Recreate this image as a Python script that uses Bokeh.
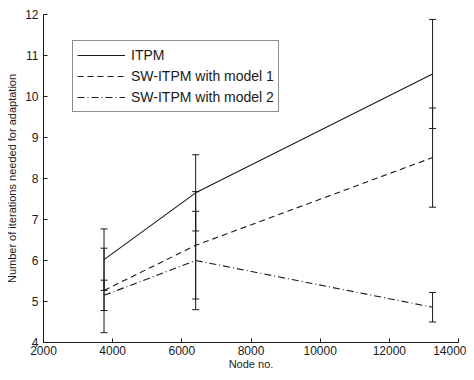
from bokeh.plotting import figure
from bokeh.models import ColumnDataSource, Whisker, TeeHead, Legend, LegendItem, Range1d, FixedTicker
from bokeh.embed import file_html
from bokeh.resources import INLINE

nodes = [3750, 6400, 13250]
itpm = [6.02, 7.65, 10.55]
itpm_err = [0.75, 0.93, 1.33]
m1 = [5.27, 6.37, 8.51]
m1_err = [1.03, 1.31, 1.21]
m2 = [5.15, 6.0, 4.86]
m2_err = [0.37, 1.2, 0.36]
labels = ["ITPM", "SW-ITPM with model 1", "SW-ITPM with model 2"]
x_ticks = [2000, 4000, 6000, 8000, 10000, 12000, 14000]
y_ticks = [4, 5, 6, 7, 8, 9, 10, 11, 12]

FONT = "Liberation Sans"
INK = "#1a1a1a"

p = figure(width=466, height=372, output_backend="svg", toolbar_location=None,
           x_range=Range1d(2000, 14000), y_range=Range1d(4, 12),
           min_border_left=43, min_border_right=8, min_border_top=14, min_border_bottom=29)
p.outline_line_color = None
p.xgrid.visible = False
p.ygrid.visible = False

series = [(itpm, itpm_err, "solid"), (m1, m1_err, "6 4"), (m2, m2_err, "7 3 1 3")]
renderers = []
for vals, errs, dash in series:
    r = p.line(nodes, vals, line_color=INK, line_width=1.1, line_dash=dash)
    renderers.append(r)
    src = ColumnDataSource(dict(x=nodes, lo=[v - e for v, e in zip(vals, errs)],
                                hi=[v + e for v, e in zip(vals, errs)]))
    w = Whisker(source=src, base="x", upper="hi", lower="lo", dimension="height",
                line_color=INK, line_width=1,
                upper_head=TeeHead(size=7, line_color=INK, line_width=1),
                lower_head=TeeHead(size=7, line_color=INK, line_width=1))
    p.add_layout(w)

for ax in (p.xaxis[0], p.yaxis[0]):
    ax.axis_line_color = INK
    ax.major_tick_in = 4
    ax.major_tick_out = 0
    ax.minor_tick_line_color = None
    ax.major_tick_line_color = INK
    ax.major_label_text_font = FONT
    ax.major_label_text_font_size = "12px"
    ax.major_label_text_color = INK
    ax.axis_label_text_font = FONT
    ax.axis_label_text_font_size = "11px"
    ax.axis_label_text_font_style = "normal"
    ax.axis_label_text_color = INK

p.xaxis.ticker = FixedTicker(ticks=x_ticks)
p.yaxis.ticker = FixedTicker(ticks=y_ticks)
p.xaxis.axis_label = "Node no."
p.yaxis.axis_label = "Number of iterations needed for adaptation"
p.xaxis.major_label_standoff = 3
p.xaxis.axis_label_standoff = 0
p.yaxis.major_label_standoff = 5
p.yaxis.axis_label_standoff = 4

legend = Legend(items=[LegendItem(label=l, renderers=[r]) for l, r in zip(labels, renderers)],
                location=(29, 230), label_text_font=FONT, label_text_font_size="14px",
                label_text_color=INK, glyph_width=48, glyph_height=20, label_height=20,
                label_standoff=6, spacing=1, padding=4, margin=0,
                border_line_color=INK, border_line_width=1, background_fill_alpha=1)
p.add_layout(legend, "center")

open("out.html", "w").write(file_html(p, INLINE))
